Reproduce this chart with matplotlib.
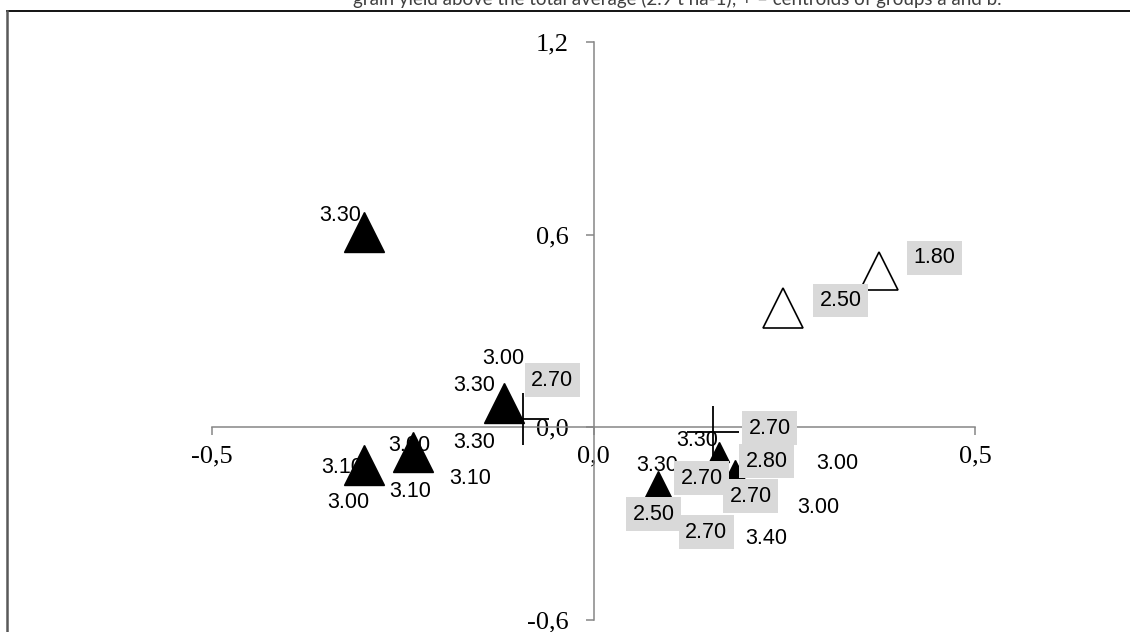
import numpy as np
import matplotlib.pyplot as plt
from matplotlib.lines import Line2D
from matplotlib.ticker import FuncFormatter

# markers: group a (filled) and group b (open)
a_x = [-0.301, -0.301, -0.237, -0.117, 0.164, 0.186, 0.084]
a_y = [0.609, -0.118, -0.078, 0.075, -0.078, -0.134, -0.180]
a_size = [28.8, 28.8, 28.8, 28.8, 14.4, 14.4, 20.0]

b_x = [0.249, 0.374]
b_y = [0.373, 0.488]
b_size = [28.8, 27.4]

# centroids of groups a and b
cen_x = [-0.093, 0.156]
cen_y = [0.025, -0.016]

# yield labels, plain (above average) and shaded (below average)
plain_txt = ["3.30", "3.00", "3.30", "3.30", "3.10", "3.10", "3.00", "3.10",
             "3.00", "3.30", "3.00", "3.30", "3.00", "3.40"]
plain_x = [-0.332, -0.118, -0.156, -0.157, -0.161, -0.330, -0.322, -0.240,
           -0.241, 0.136, 0.320, 0.084, 0.295, 0.227]
plain_y = [0.659, 0.214, 0.131, -0.047, -0.159, -0.124, -0.233, -0.199,
           -0.056, -0.040, -0.112, -0.118, -0.249, -0.345]

grey_txt = ["2.70", "2.70", "2.80", "2.70", "2.70", "2.50", "2.70", "2.50", "1.80"]
grey_x = [-0.054, 0.231, 0.227, 0.142, 0.206, 0.079, 0.148, 0.324, 0.447]
grey_y = [0.146, -0.003, -0.106, -0.159, -0.214, -0.270, -0.326, 0.395, 0.528]

plt.rcParams['font.family'] = ['Liberation Serif', 'DejaVu Serif']

W, H = 1130, 632
fig = plt.figure(figsize=(W / 100, H / 100), dpi=100)
ax = fig.add_axes([212 / W, 1 - 620 / H, (975 - 212) / W, (620 - 42) / H])
ax.set_xlim(-0.5, 0.5)
ax.set_ylim(-0.6, 1.2)

axcol = '#868686'
for s in ['top', 'right']:
    ax.spines[s].set_visible(False)
ax.spines['left'].set_position(('data', 0))
ax.spines['bottom'].set_position(('data', 0))
for s in ['left', 'bottom']:
    ax.spines[s].set_color(axcol)
    ax.spines[s].set_linewidth(1.1)

ax.set_xticks([-0.5, 0.0, 0.5])
ax.set_yticks([-0.6, 0.0, 0.6, 1.2])
fmt = FuncFormatter(lambda v, p: f"{v:.1f}".replace('.', ','))
ax.xaxis.set_major_formatter(fmt)
ax.yaxis.set_major_formatter(fmt)
ax.tick_params(axis='both', direction='out', length=6, width=1.1, color=axcol,
               labelsize=19, labelcolor='black')
ax.tick_params(axis='x', pad=7)
ax.tick_params(axis='y', pad=12)

# plain labels sit under the markers
for t, x, y in zip(plain_txt, plain_x, plain_y):
    ax.text(x, y, t, ha='center', va='center', fontsize=15.5,
            family='Liberation Sans', zorder=2, clip_on=False)

for x, y, s in zip(a_x, a_y, a_size):
    ax.plot(x, y, marker='^', ms=s, color='black', mec='black', ls='none',
            zorder=3, clip_on=False)
for x, y, s in zip(b_x, b_y, b_size):
    ax.plot(x, y, marker='^', ms=s, mfc='white', mec='black', mew=1.2,
            ls='none', zorder=3, clip_on=False)

ax.plot(cen_x, cen_y, marker='+', ms=37, mew=1.3, color='black', ls='none',
        zorder=4, clip_on=False)

# shaded labels cover the markers
for t, x, y in zip(grey_txt, grey_x, grey_y):
    ax.text(x, y, t, ha='center', va='center', fontsize=15.5,
            family='Liberation Sans', zorder=5, clip_on=False,
            bbox=dict(boxstyle='square,pad=0.3', fc='#d9d9d9', ec='none'))

# frame of the figure box and the caption above it
fig.add_artist(Line2D([7 / W, 1], [1 - 10.5 / H, 1 - 10.5 / H], color='black',
                      lw=1.3, transform=fig.transFigure))
fig.add_artist(Line2D([7 / W, 7 / W], [0, 1 - 10.5 / H], color='#595959',
                      lw=1.8, transform=fig.transFigure))
fig.text(677 / W, 1 - 5 / H,
         "grain yield above the total average (2.9 t ha-1); + – centroids of groups a and b.",
         ha='center', va='baseline', fontsize=13.5, family=['Lato', 'DejaVu Sans'],
         color='#404040')

fig.savefig('out.png', dpi=100)
